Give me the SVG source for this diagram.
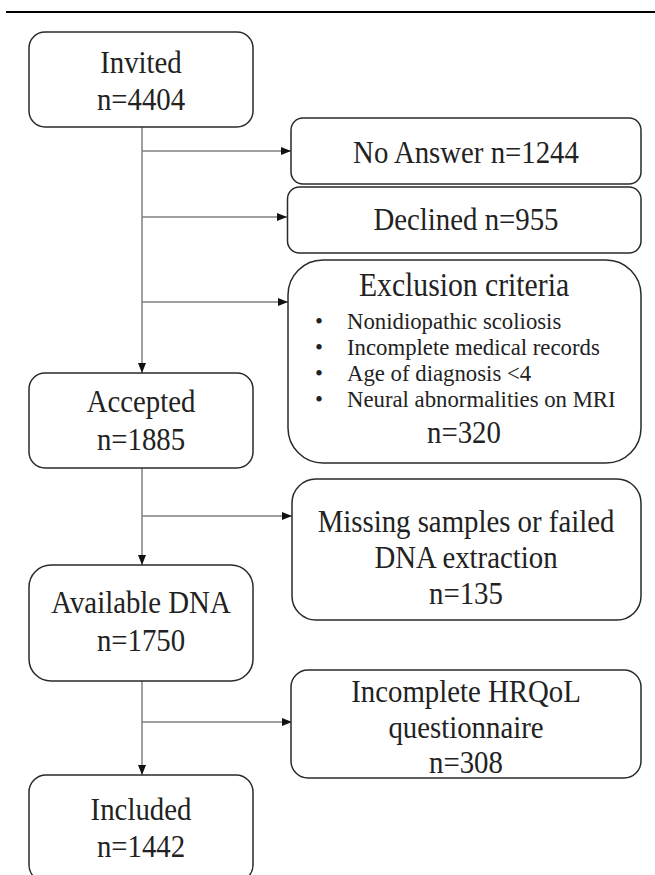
<svg xmlns="http://www.w3.org/2000/svg" width="655" height="875" viewBox="0 0 655 875">
<defs>
<marker id="ah" markerWidth="10" markerHeight="8" refX="10" refY="4" orient="auto" markerUnits="userSpaceOnUse">
<path d="M0,0 L10,4 L0,8 Z" fill="#111"/>
</marker>
<style>
.box{fill:#fff;stroke:#2a2a2a;stroke-width:1.5}
.t{font-family:"Liberation Serif","Times New Roman",serif;font-size:32px;fill:#222;text-anchor:middle;transform-box:fill-box;transform-origin:center;transform:scaleX(0.9)}
.h{font-size:33px}
.s{font-family:"Liberation Serif","Times New Roman",serif;font-size:23px;fill:#222;transform-box:fill-box;transform-origin:left center;transform:scaleX(0.99)}
.c{stroke:#808080;stroke-width:1.5;fill:none}
</style>
</defs>
<rect width="655" height="875" fill="#fff"/>
<line x1="6" y1="12" x2="655" y2="12" stroke="#000" stroke-width="2.2"/>
<g id="connectors">
<line class="c" x1="142" y1="127" x2="142" y2="373" marker-end="url(#ah)"/>
<line class="c" x1="142" y1="151" x2="291" y2="151" marker-end="url(#ah)"/>
<line class="c" x1="142" y1="217" x2="287" y2="217" marker-end="url(#ah)"/>
<line class="c" x1="142" y1="302" x2="288" y2="302" marker-end="url(#ah)"/>
<line class="c" x1="142" y1="468" x2="142" y2="565" marker-end="url(#ah)"/>
<line class="c" x1="142" y1="516" x2="292" y2="516" marker-end="url(#ah)"/>
<line class="c" x1="142" y1="681" x2="142" y2="775" marker-end="url(#ah)"/>
<line class="c" x1="142" y1="722" x2="292" y2="722" marker-end="url(#ah)"/>
</g>
<g id="invited">
<rect class="box" x="29" y="32" width="224" height="95" rx="16"/>
<text class="t" x="141" y="73">Invited</text>
<text class="t" x="141" y="110">n=4404</text>
</g>
<g id="noanswer">
<rect class="box" x="291" y="118" width="350" height="66" rx="12"/>
<text class="t" x="466" y="163">No Answer n=1244</text>
</g>
<g id="declined">
<rect class="box" x="287.5" y="187" width="353.5" height="66" rx="12"/>
<text class="t" x="466" y="230">Declined n=955</text>
</g>
<g id="exclusion">
<rect class="box" x="288" y="260" width="353" height="203" rx="35"/>
<text class="t h" x="464" y="296">Exclusion criteria</text>
<text class="s" x="315" y="329">•</text><text class="s" x="347" y="329">Nonidiopathic scoliosis</text>
<text class="s" x="315" y="355">•</text><text class="s" x="347" y="355">Incomplete medical records</text>
<text class="s" x="315" y="381">•</text><text class="s" x="347" y="381">Age of diagnosis &lt;4</text>
<text class="s" x="315" y="407">•</text><text class="s" x="347" y="407">Neural abnormalities on MRI</text>
<text class="t" x="464" y="443">n=320</text>
</g>
<g id="accepted">
<rect class="box" x="29" y="373" width="224" height="95" rx="16"/>
<text class="t" x="141" y="412">Accepted</text>
<text class="t" x="141" y="450">n=1885</text>
</g>
<g id="missing">
<rect class="box" x="292" y="479" width="349" height="141" rx="24"/>
<text class="t" x="466" y="532">Missing samples or failed</text>
<text class="t" x="466" y="568">DNA extraction</text>
<text class="t" x="466" y="604">n=135</text>
</g>
<g id="available">
<rect class="box" x="29" y="565" width="224" height="116" rx="22"/>
<text class="t" x="141" y="613">Available DNA</text>
<text class="t" x="141" y="651">n=1750</text>
</g>
<g id="hrqol">
<rect class="box" x="291" y="670" width="350" height="108" rx="17"/>
<text class="t" x="466" y="702">Incomplete HRQoL</text>
<text class="t" x="466" y="738">questionnaire</text>
<text class="t" x="466" y="773">n=308</text>
</g>
<g id="included">
<rect class="box" x="29" y="775" width="224" height="107" rx="17"/>
<text class="t" x="141" y="820">Included</text>
<text class="t" x="141" y="857">n=1442</text>
</g>
</svg>
